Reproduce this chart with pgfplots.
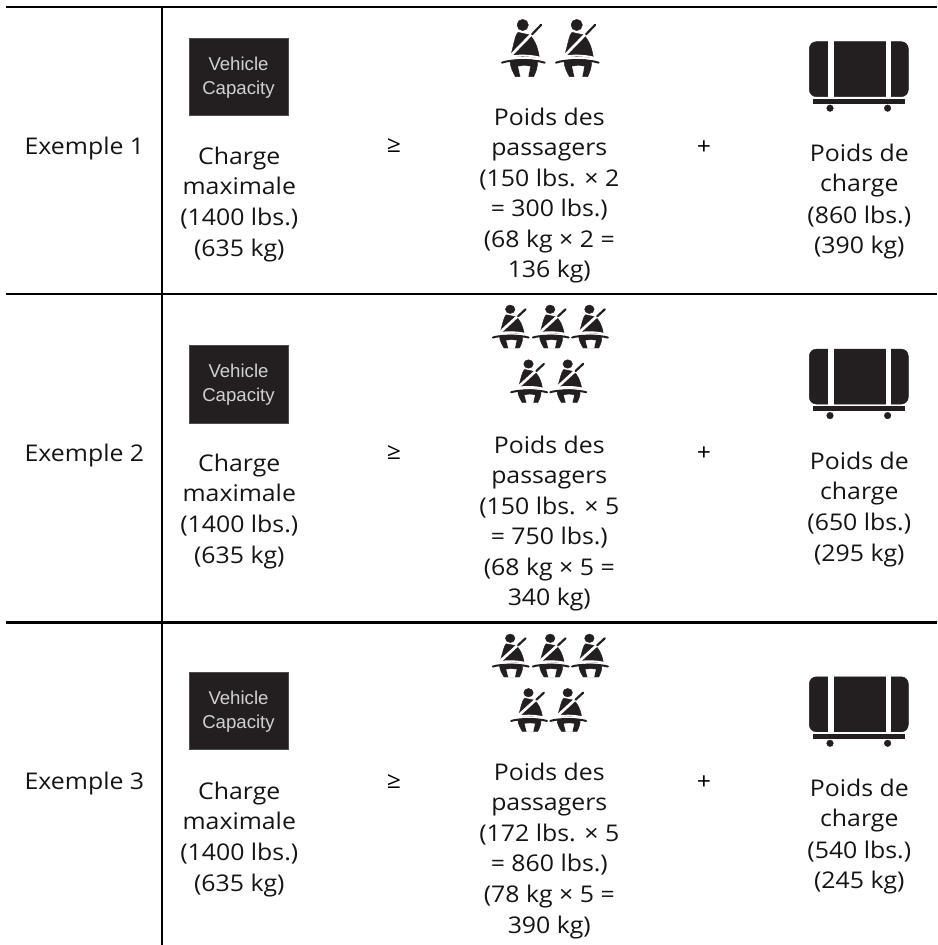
\documentclass[border=0pt]{standalone}
\usepackage{fontspec}
\setmainfont[FakeStretch=1.08]{Open Sans}
\newfontfamily\capfont{Liberation Sans}
\usepackage{pgfplots}
\pgfplotsset{compat=1.18}
\definecolor{ink}{HTML}{231F20}
\pgfdeclareplotmark{seat}{%
  \begin{scope}[x=0.3333pt,y=0.3333pt]
  \fill[ink] (0,0) circle (17);
  \fill[ink] (-14,-22) .. controls (-22,-28) and (-26,-55) .. (-36,-92) -- (50,-97) .. controls (44,-60) and (35,-45) .. (22,-30) -- cycle;
  \draw[white,line width=2.7pt] (30,-24) -- (-44,-100);
  \draw[ink,line width=2.2pt,line cap=round] (55,0) -- (28,-28);
  \draw[white,line width=1.8pt] (-44,-96) .. controls (-15,-90) and (20,-90) .. (52,-98);
  \fill[ink] (-38,-108) .. controls (-10,-101) and (20,-101) .. (44,-108) .. controls (46,-125) and (40,-140) .. (33,-155) -- (-22,-155) .. controls (-30,-140) and (-38,-125) .. (-38,-108) -- cycle;
  \draw[ink,line width=2pt,line cap=round] (-62,-113) .. controls (-35,-103) and (35,-103) .. (66,-113);
  \fill[white] (-13,-125) .. controls (0,-122) and (10,-122) .. (22,-125) -- (16,-156) -- (-6,-156) -- cycle;
  \end{scope}
}
\pgfdeclareplotmark{cargo}{%
  \begin{scope}[x=1pt,y=1pt]
  \fill[ink,rounded corners=7pt] (-49.5,-27.5) rectangle (49.5,27.5);
  \fill[white] (-30.5,-28) rectangle (-26.1,28);
  \fill[white] (26.9,-28) rectangle (31.2,28);
  \fill[ink] (-45.5,-34) rectangle (45.5,-30);
  \fill[ink] (-28.8,-39) circle (3.3);
  \fill[ink] (28.8,-39) circle (3.3);
  \end{scope}
}
\pgfdeclareplotmark{capbox}{%
  \filldraw[fill=ink,draw=ink!80!white,line width=0.6pt] (-49.6pt,-38.6pt) rectangle (49.6pt,38.6pt);
}
\newcommand{\fs}{\fontsize{23}{27}\selectfont}
\newcommand{\T}[3]{\node[anchor=base,inner sep=0pt,text=black!92] at (axis cs:#1,{945-#2}) {\fs #3};}
\newcommand{\W}[3]{\node[anchor=base,inner sep=0pt,text=black!18] at (axis cs:#1,{945-#2}) {\capfont\fontsize{18.6}{22}\selectfont #3};}
\newcommand{\C}[3]{\node[anchor=center,inner sep=0pt] at (axis cs:#1,{945-#2}) {\fs #3};}
\pgfplotsset{sheet/.style={
  at={(0pt,0pt)},anchor=south west,
  scale only axis,width=937pt,height=945pt,
  xmin=0,xmax=937,ymin=0,ymax=945,
  axis lines=none,clip=false,
}}
\begin{document}
\begin{tikzpicture}[x=1pt,y=1pt]
\useasboundingbox (0,0) rectangle (937,945);
\begin{axis}[sheet]
% rules
\addplot[black,line width=2.6pt,forget plot] coordinates {(6,938) (937,938)};
\addplot[black,line width=2.6pt,forget plot] coordinates {(6,651) (937,651)};
\addplot[black,line width=2.6pt,forget plot] coordinates {(6,322.7) (937,322.7)};
\addplot[black,line width=2.6pt,forget plot] coordinates {(162,938) (162,0)};
% icons
\addplot[only marks,mark=capbox] coordinates {(238.7,868) (238.7,560.6) (238.7,233.8)};
\addplot[only marks,mark=cargo] coordinates {(858.8,875.8) (858.8,568.4) (858.8,240.7)};
\addplot[only marks,mark=seat] coordinates {(522.7,920) (576.7,920)};
\addplot[only marks,mark=seat,mark options={xscale=.84,yscale=.75}] coordinates {
 (510.2,635.7) (550.2,635.7) (589.4,635.7) (528.5,581) (567.7,581)
 (510.2,306.7) (550.2,306.7) (589.4,306.7) (528.5,252.3) (567.7,252.3)};
\end{axis}
\begin{axis}[sheet]
% capacity labels
\W{238.5}{70.2}{Vehicle}\W{238.5}{94.6}{Capacity}
\W{238.5}{377.3}{Vehicle}\W{238.5}{401.7}{Capacity}
\W{238.5}{704.2}{Vehicle}\W{238.5}{728.6}{Capacity}
% row labels
\T{84.4}{154.3}{Exemple 1}
\T{84.4}{461.7}{Exemple 2}
\T{84.4}{790}{Exemple 3}
% max load
\T{239.3}{165}{Charge}\T{239.3}{195}{maximale}\T{239.3}{226}{(1400 lbs.)}\T{239.3}{256.5}{(635 kg)}
\T{239.3}{471.7}{Charge}\T{239.3}{501.7}{maximale}\T{239.3}{532.7}{(1400 lbs.)}\T{239.3}{563.2}{(635 kg)}
\T{239.3}{800}{Charge}\T{239.3}{830}{maximale}\T{239.3}{861}{(1400 lbs.)}\T{239.3}{891.5}{(635 kg)}
% signs
\C{394}{146}{≥}\C{394}{453}{≥}\C{394}{781.7}{≥}
\C{704}{147.3}{+}\C{704}{454}{+}\C{704}{782.7}{+}
% passengers
\T{549.3}{125.7}{Poids des}\T{549.3}{155.7}{passagers}\T{549.3}{187}{(150 lbs. × 2}\T{549.3}{216.7}{= 300 lbs.)}\T{549.3}{247.3}{(68 kg × 2 =}\T{549.3}{278}{136 kg)}
\T{549.3}{453.7}{Poids des}\T{549.3}{483.7}{passagers}\T{549.3}{515}{(150 lbs. × 5}\T{549.3}{544.7}{= 750 lbs.)}\T{549.3}{575.3}{(68 kg × 5 =}\T{549.3}{606}{340 kg)}
\T{549.3}{780.7}{Poids des}\T{549.3}{810.7}{passagers}\T{549.3}{842}{(172 lbs. × 5}\T{549.3}{871.7}{= 860 lbs.)}\T{549.3}{902.3}{(78 kg × 5 =}\T{549.3}{933}{390 kg)}
% cargo
\T{859.3}{161.7}{Poids de}\T{859.3}{192}{charge}\T{859.3}{223.3}{(860 lbs.)}\T{859.3}{254}{(390 kg)}
\T{859.3}{469.2}{Poids de}\T{859.3}{499.5}{charge}\T{859.3}{530.8}{(650 lbs.)}\T{859.3}{561.5}{(295 kg)}
\T{859.3}{796.7}{Poids de}\T{859.3}{827}{charge}\T{859.3}{858.3}{(540 lbs.)}\T{859.3}{889}{(245 kg)}
\end{axis}
\end{tikzpicture}
\end{document}
